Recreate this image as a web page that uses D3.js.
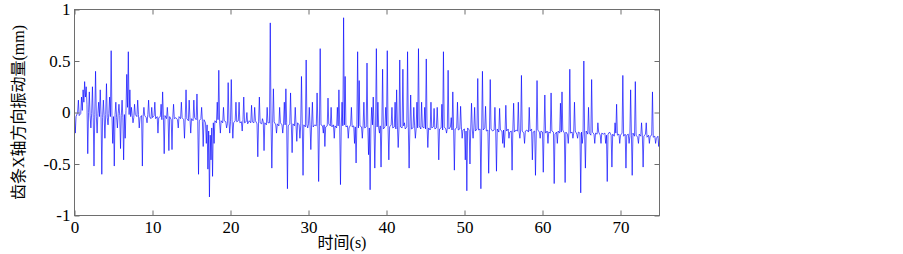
<!DOCTYPE html>
<html>
<head>
<meta charset="utf-8">
<script src="https://cdn.jsdelivr.net/npm/d3@7"></script>
<style>
  body { margin: 0; background: #fff; }
  svg { display: block; }
</style>
</head>
<body>
<svg id="chart" width="903" height="254"></svg>
<script>
// linea base, un valor cada 0.2 s (5 por segundo)
const pasoBase = 0.2;
const lineaBase = [
  -0.02, -0.04, 0.00, -0.03, -0.01,
  0.02, 0.10, 0.15, 0.08, 0.00,
  -0.03, -0.01, -0.05, -0.02, -0.04,
  -0.01, -0.04, -0.02, -0.05, -0.03,
  -0.02, -0.05, -0.01, -0.04, -0.03,
  -0.04, -0.02, -0.05, -0.01, -0.03,
  -0.03, -0.05, -0.02, 0.02, 0.05,
  -0.02, -0.04, -0.03, -0.05, -0.02,
  -0.04, -0.02, -0.05, -0.03, -0.04,
  -0.03, -0.05, -0.02, -0.04, -0.06,
  -0.05, -0.03, -0.06, -0.04, -0.05,
  -0.04, -0.07, -0.05, -0.03, -0.06,
  -0.06, -0.04, -0.07, -0.05, -0.06,
  -0.05, -0.07, -0.04, -0.06, -0.05,
  -0.07, -0.05, -0.06, -0.08, -0.05,
  -0.06, -0.08, -0.05, -0.07, -0.09,
  -0.08, -0.06, -0.09, -0.07, -0.10,
  -0.12, -0.18, -0.22, -0.15, -0.10,
  -0.08, -0.10, -0.07, -0.09, -0.08,
  -0.10, -0.08, -0.09, -0.11, -0.08,
  -0.09, -0.07, -0.10, -0.08, -0.09,
  -0.08, -0.10, -0.09, -0.07, -0.10,
  -0.09, -0.11, -0.08, -0.10, -0.09,
  -0.10, -0.08, -0.11, -0.09, -0.10,
  -0.11, -0.09, -0.10, -0.12, -0.10,
  -0.10, -0.12, -0.11, -0.09, -0.12,
  -0.11, -0.13, -0.10, -0.12, -0.11,
  -0.12, -0.10, -0.13, -0.11, -0.12,
  -0.11, -0.13, -0.12, -0.10, -0.12,
  -0.13, -0.11, -0.12, -0.14, -0.12,
  -0.11, -0.13, -0.12, -0.14, -0.12,
  -0.13, -0.11, -0.14, -0.12, -0.13,
  -0.12, -0.14, -0.13, -0.11, -0.13,
  -0.14, -0.12, -0.13, -0.15, -0.13,
  -0.12, -0.14, -0.13, -0.12, -0.14,
  -0.13, -0.15, -0.12, -0.14, -0.13,
  -0.14, -0.12, -0.15, -0.13, -0.14,
  -0.13, -0.15, -0.14, -0.12, -0.15,
  -0.14, -0.12, -0.15, -0.13, -0.14,
  -0.15, -0.13, -0.14, -0.16, -0.14,
  -0.13, -0.15, -0.14, -0.12, -0.15,
  -0.14, -0.16, -0.13, -0.15, -0.14,
  -0.15, -0.13, -0.16, -0.14, -0.15,
  -0.14, -0.16, -0.15, -0.13, -0.16,
  -0.15, -0.13, -0.16, -0.14, -0.15,
  -0.16, -0.14, -0.15, -0.17, -0.15,
  -0.14, -0.16, -0.15, -0.13, -0.16,
  -0.15, -0.17, -0.14, -0.16, -0.15,
  -0.16, -0.14, -0.17, -0.15, -0.16,
  -0.15, -0.17, -0.16, -0.14, -0.17,
  -0.16, -0.18, -0.15, -0.17, -0.16,
  -0.17, -0.15, -0.18, -0.16, -0.17,
  -0.16, -0.18, -0.17, -0.15, -0.18,
  -0.17, -0.19, -0.16, -0.18, -0.17,
  -0.18, -0.16, -0.19, -0.17, -0.18,
  -0.17, -0.19, -0.18, -0.16, -0.19,
  -0.18, -0.16, -0.19, -0.17, -0.18,
  -0.19, -0.17, -0.18, -0.20, -0.18,
  -0.17, -0.19, -0.18, -0.16, -0.19,
  -0.18, -0.20, -0.17, -0.19, -0.18,
  -0.19, -0.17, -0.20, -0.18, -0.19,
  -0.20, -0.18, -0.19, -0.21, -0.19,
  -0.18, -0.20, -0.19, -0.17, -0.20,
  -0.19, -0.21, -0.18, -0.20, -0.19,
  -0.20, -0.18, -0.21, -0.19, -0.20,
  -0.19, -0.21, -0.20, -0.18, -0.21,
  -0.20, -0.22, -0.19, -0.21, -0.20,
  -0.21, -0.19, -0.22, -0.20, -0.21,
  -0.20, -0.22, -0.21, -0.19, -0.22,
  -0.21, -0.23, -0.20, -0.22, -0.21,
  -0.22, -0.20, -0.23, -0.21, -0.22,
  -0.21, -0.23, -0.22, -0.20, -0.23,
  -0.22, -0.24, -0.21, -0.23, -0.22,
  -0.23, -0.21, -0.24, -0.22, -0.23,
  -0.22, -0.24, -0.23, -0.25, -0.23,
  -0.24
];

// picos [tiempo (s), valor (mm)]
const picos = [
  [0.1,-0.2],[0.5,0.12],[0.9,0.15],[1.1,0.22],[1.3,0.30],[1.5,0.25],[1.7,-0.40],[1.9,0.20],
  [2.1,-0.15],[2.3,0.25],[2.5,-0.52],[2.7,0.40],[2.9,-0.20],[3.1,0.10],[3.3,0.22],[3.5,-0.60],
  [3.7,0.12],[3.9,-0.25],[4.1,0.28],[4.3,-0.12],[4.5,0.15],[4.7,0.60],[4.9,-0.30],[5.1,-0.52],
  [5.3,0.10],[5.5,-0.15],[5.7,0.08],[5.9,-0.35],[6.1,0.12],[6.3,-0.46],[6.5,-0.25],[6.7,0.37],
  [6.9,0.59],[7.1,0.22],[7.3,0.05],[7.5,-0.10],[7.7,0.08],[8.1,0.12],[8.3,-0.15],[8.7,-0.52],
  [8.9,0.05],[9.3,-0.10],[9.5,0.12],[9.9,0.05],[10.3,0.10],[10.7,-0.20],[11.1,0.08],[11.3,0.20],
  [11.5,-0.40],[11.9,0.05],[12.1,-0.37],[12.5,-0.36],[12.7,0.08],[13.3,-0.15],[13.7,0.10],
  [14.1,-0.25],[14.3,0.22],[14.7,0.12],[14.9,-0.20],[15.3,0.12],[15.7,0.18],[15.9,-0.60],
  [16.3,0.05],[16.5,-0.33],[16.9,-0.30],[17.1,-0.55],[17.3,-0.82],[17.5,-0.46],[17.7,-0.62],
  [17.9,-0.30],[18.3,0.10],[18.5,0.41],[18.7,-0.20],[19.1,0.05],[19.5,-0.15],[19.7,0.29],
  [19.9,-0.20],[20.1,0.32],[20.3,-0.25],[20.7,0.10],[21.1,0.10],[21.5,-0.18],[21.7,0.15],
  [22.1,0.00],[22.7,0.07],[23.1,0.05],[23.5,-0.43],[23.7,0.15],[24.1,-0.06],[24.3,-0.37],
  [24.7,0.05],[25.1,0.87],[25.3,-0.54],[25.5,0.23],[25.9,-0.20],[26.3,0.05],[26.7,-0.20],
  [26.9,0.10],[27.1,0.23],[27.3,-0.74],[27.7,0.19],[27.9,-0.39],[28.3,0.05],[28.5,-0.28],
  [28.9,-0.25],[29.1,0.35],[29.3,-0.61],[29.7,0.51],[29.9,-0.15],[30.1,0.05],[30.3,-0.36],
  [30.5,0.10],[31.1,0.19],[31.3,-0.67],[31.5,0.62],[31.9,-0.20],[32.1,-0.33],[32.5,0.14],
  [32.9,0.05],[33.3,-0.25],[33.7,0.05],[33.9,0.22],[34.1,-0.70],[34.3,0.10],[34.5,0.92],
  [34.7,0.35],[35.1,-0.25],[35.5,0.05],[35.9,-0.30],[36.1,-0.49],[36.3,0.59],[36.5,0.31],
  [36.9,-0.25],[37.1,0.10],[37.5,0.48],[37.7,-0.41],[37.9,-0.75],[38.1,0.05],[38.3,0.15],
  [38.5,-0.54],[38.7,0.62],[38.9,0.10],[39.1,-0.20],[39.3,-0.53],[39.5,0.42],[39.9,0.05],
  [40.1,0.60],[40.3,-0.46],[40.7,0.05],[41.1,0.10],[41.3,0.22],[41.5,-0.34],[41.7,0.51],
  [42.1,0.42],[42.3,-0.10],[42.7,0.59],[42.9,-0.54],[43.1,0.17],[43.5,0.05],[43.7,-0.25],
  [43.9,0.10],[44.1,0.62],[44.5,0.10],[44.9,0.05],[45.1,0.52],[45.3,-0.34],[45.7,0.10],
  [46.1,0.04],[46.5,0.05],[46.7,-0.46],[47.1,0.08],[47.3,0.59],[47.7,-0.20],[47.9,0.41],
  [48.3,-0.05],[48.5,0.20],[48.7,-0.56],[49.1,0.10],[49.5,0.06],[49.7,-0.25],[50.1,-0.46],
  [50.3,-0.76],[50.7,-0.50],[50.9,0.09],[51.1,-0.25],[51.3,0.05],[51.7,0.33],[52.1,-0.74],
  [52.3,0.40],[52.7,0.06],[53.1,-0.59],[53.3,0.32],[53.9,0.05],[54.1,-0.57],[54.5,0.04],
  [54.9,-0.30],[55.1,-0.34],[55.3,0.07],[55.7,-0.25],[56.1,-0.56],[56.3,0.09],[56.9,0.10],
  [57.1,-0.25],[57.3,0.36],[57.7,-0.30],[58.3,0.05],[58.7,-0.46],[59.1,-0.61],[59.3,0.31],
  [59.7,-0.25],[60.1,-0.58],[60.3,0.17],[60.7,-0.30],[61.1,0.19],[61.5,-0.69],[61.9,-0.30],
  [62.3,0.09],[62.5,0.20],[62.9,-0.68],[63.3,-0.30],[63.5,0.42],[63.9,-0.25],[64.1,0.10],
  [64.5,-0.25],[64.9,-0.78],[65.1,-0.30],[65.3,0.50],[65.5,-0.54],[65.9,0.05],[66.3,0.32],
  [66.7,-0.30],[67.1,-0.10],[67.5,-0.30],[68.1,-0.30],[68.3,-0.67],[68.9,-0.53],[69.3,-0.10],
  [69.5,0.08],[69.9,-0.30],[70.3,0.36],[70.7,-0.54],[71.1,-0.30],[71.3,0.22],[71.5,-0.61],
  [71.9,0.30],[72.3,-0.30],[72.7,-0.10],[72.9,-0.53],[73.3,-0.10],[73.7,-0.30],[74.1,0.20],
  [74.5,-0.30],[74.9,-0.33]
];

const xTicks = [0, 10, 20, 30, 40, 50, 60, 70];
const yTicks = [-1, -0.5, 0, 0.5, 1];
const xLabel = "时间(s)";
const yLabel = "齿条X轴方向振动量(mm)";

const svg = d3.select("#chart");
const margen = { left: 74.5, right: 659.5, top: 9.5, bottom: 215.5 };

const x = d3.scaleLinear().domain([0, 75]).range([margen.left, margen.right]);
const y = d3.scaleLinear().domain([-1, 1]).range([margen.bottom, margen.top]);

// juntar base y picos en una sola serie ordenada por tiempo
const datos = lineaBase.map((v, i) => ({ t: +(i * pasoBase).toFixed(2), v: v }))
  .concat(picos.map(p => ({ t: p[0], v: p[1] })))
  .sort((a, b) => a.t - b.t);

// senal
svg.append("path")
  .datum(datos)
  .attr("fill", "none")
  .attr("stroke", "#0000ff")
  .attr("stroke-width", 0.65)
  .attr("d", d3.line().x(d => x(d.t)).y(d => y(d.v)));

// ejes estilo matlab, ticks hacia dentro
const fuente = "'Liberation Serif', 'Times New Roman', serif";
const fuenteCJK = "'Liberation Serif', 'Noto Sans CJK SC', serif";
const ejeColor = "#6e6e6e";

function estilo(g) {
  g.attr("font-family", fuente).attr("font-size", 17);
  g.select(".domain").remove();
  g.selectAll(".tick line").attr("stroke", ejeColor);
  g.selectAll(".tick text").attr("fill", "#000");
}

svg.append("g")
  .attr("transform", `translate(0,${margen.bottom})`)
  .call(d3.axisBottom(x).tickValues(xTicks).tickSizeInner(-5).tickPadding(5).tickFormat(d3.format("d")))
  .call(estilo);

svg.append("g")
  .attr("transform", `translate(0,${margen.top})`)
  .call(d3.axisTop(x).tickValues(xTicks).tickSizeInner(-5).tickFormat(""))
  .call(estilo);

svg.append("g")
  .attr("transform", `translate(${margen.left},0)`)
  .call(d3.axisLeft(y).tickValues(yTicks).tickSizeInner(-5).tickPadding(4).tickFormat(d => String(d)))
  .call(estilo);

svg.append("g")
  .attr("transform", `translate(${margen.right},0)`)
  .call(d3.axisRight(y).tickValues(yTicks).tickSizeInner(-5).tickFormat(""))
  .call(estilo);

// marco
svg.append("rect")
  .attr("x", margen.left).attr("y", margen.top)
  .attr("width", margen.right - margen.left).attr("height", margen.bottom - margen.top)
  .attr("fill", "none")
  .attr("stroke", ejeColor)
  .attr("stroke-width", 1);

// titulos de ejes
svg.append("text")
  .attr("x", 342).attr("y", 248)
  .attr("text-anchor", "middle")
  .attr("font-family", fuenteCJK)
  .attr("font-size", 16)
  .text(xLabel);

svg.append("text")
  .attr("transform", `translate(24,${(margen.top + margen.bottom) / 2}) rotate(-90)`)
  .attr("text-anchor", "middle")
  .attr("font-family", fuenteCJK)
  .attr("font-size", 16)
  .text(yLabel);
</script>
</body>
</html>
